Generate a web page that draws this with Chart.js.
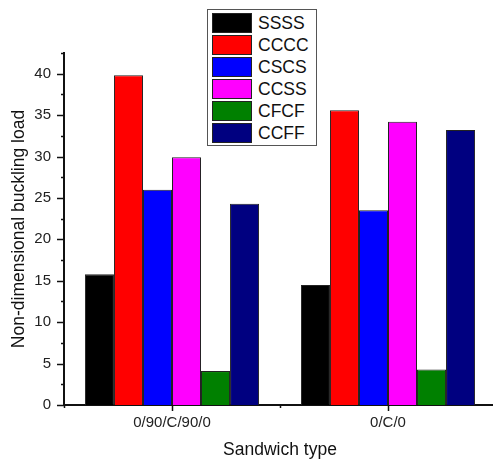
<!DOCTYPE html>
<html lang="en">
<head>
  <meta charset="UTF-8">
  <title>Non-dimensional buckling load</title>
  <script src="https://cdn.jsdelivr.net/npm/chart.js"></script>
  <style>
    html, body { margin: 0; padding: 0; overflow: hidden; background: #fff; }
    #wrap { position: relative; width: 500px; height: 461px; }
    #legenda {
      position: absolute; left: 207px; top: 9px; width: 110px;
      box-sizing: border-box; border: 1px solid #555; background: #fff;
      padding: 2px 3px 1px 4px;
      font-family: "Liberation Sans", Arial, sans-serif; font-size: 17.5px; color: #111;
    }
    #legenda .item { display: flex; align-items: center; height: 22px; }
    #legenda .cor { width: 40px; height: 20px; box-sizing: border-box; border: 1px solid #222; margin-right: 6px; }
  </style>
</head>
<body>
  <div id="wrap">
    <canvas id="grafico" width="500" height="461"></canvas>
    <div id="legenda"></div>
  </div>

  <script>
    // dados
    const categorias = ['0/90/C/90/0', '0/C/0'];
    const condicoes = ['SSSS', 'CCCC', 'CSCS', 'CCSS', 'CFCF', 'CCFF'];
    const cores = ['#000000', '#ff0000', '#0000ff', '#ff00ff', '#008000', '#000080'];
    const SSSS = [15.8, 14.5];
    const CCCC = [39.8, 35.6];
    const CSCS = [26.0, 23.5];
    const CCSS = [29.9, 34.2];
    const CFCF = [4.1, 4.3];
    const CCFF = [24.3, 33.2];
    const valores = [SSSS, CCCC, CSCS, CCSS, CFCF, CCFF];
    const yMax = 42.5;
    const yPasso = 5;

    const fonte = '"Liberation Sans", Arial, sans-serif';

    // desenha os traços maiores e menores dos eixos
    const tracos = {
      id: 'tracos',
      afterDraw(chart) {
        const ctx = chart.ctx;
        const y = chart.scales.y, x = chart.scales.x;
        ctx.save();
        ctx.strokeStyle = '#111';
        ctx.lineWidth = 1.5;
        for (let v = 0; v <= yMax + 0.001; v += yPasso / 2) {
          const py = Math.round(y.getPixelForValue(v)) + 0.5;
          const len = (v % yPasso === 0) ? 7 : 3;
          ctx.beginPath();
          ctx.moveTo(y.right - len, py);
          ctx.lineTo(y.right, py);
          ctx.stroke();
        }
        const n = categorias.length;
        for (let i = 0; i < n; i++) {
          const px = Math.round(x.getPixelForValue(i)) + 0.5;
          ctx.beginPath();
          ctx.moveTo(px, x.top);
          ctx.lineTo(px, x.top + 6);
          ctx.stroke();
        }
        const larg = (x.right - x.left) / n;
        for (let i = 0; i <= n; i++) {
          const px = Math.round(x.left + larg * i) + 0.5;
          ctx.beginPath();
          ctx.moveTo(px, x.top);
          ctx.lineTo(px, x.top + 3);
          ctx.stroke();
        }
        ctx.restore();
      }
    };

    const grafico = new Chart(document.getElementById('grafico'), {
      type: 'bar',
      data: {
        labels: categorias,
        datasets: condicoes.map((nome, i) => ({
          label: nome,
          data: valores[i],
          backgroundColor: cores[i],
          borderColor: '#222',
          borderWidth: 1,
          barPercentage: 1,
          categoryPercentage: 0.806
        }))
      },
      options: {
        responsive: false,
        animation: false,
        layout: { padding: { top: 53, right: 4, left: 0, bottom: 0 } },
        plugins: {
          legend: { display: false },
          tooltip: { enabled: false }
        },
        scales: {
          x: {
            afterFit(s) { s.height = 56; },
            grid: { display: false, drawTicks: true, tickLength: 6 },
            border: { display: true, color: '#111', width: 2 },
            ticks: { color: '#222', padding: 3, font: { family: fonte, size: 15 } },
            title: { display: true, text: 'Sandwich type', color: '#111', padding: { top: 0, bottom: 0 }, font: { family: fonte, size: 17.5 } }
          },
          y: {
            min: 0,
            max: yMax,
            afterFit(s) { s.width = 64; },
            grid: { display: false, drawTicks: true, tickLength: 7 },
            border: { display: true, color: '#111', width: 2 },
            ticks: { stepSize: yPasso, includeBounds: false, color: '#222', padding: 6, font: { family: fonte, size: 15 } },
            title: { display: true, text: 'Non-dimensional buckling load', color: '#111', padding: { top: 9, bottom: 0 }, font: { family: fonte, size: 17.5 } }
          }
        }
      },
      plugins: [tracos]
    });

    // legenda em HTML a partir dos datasets
    const legenda = document.getElementById('legenda');
    grafico.data.datasets.forEach(ds => {
      const item = document.createElement('div');
      item.className = 'item';
      item.innerHTML = `<span class="cor" style="background:${ds.backgroundColor}"></span><span>${ds.label}</span>`;
      legenda.appendChild(item);
    });
  </script>
</body>
</html>
